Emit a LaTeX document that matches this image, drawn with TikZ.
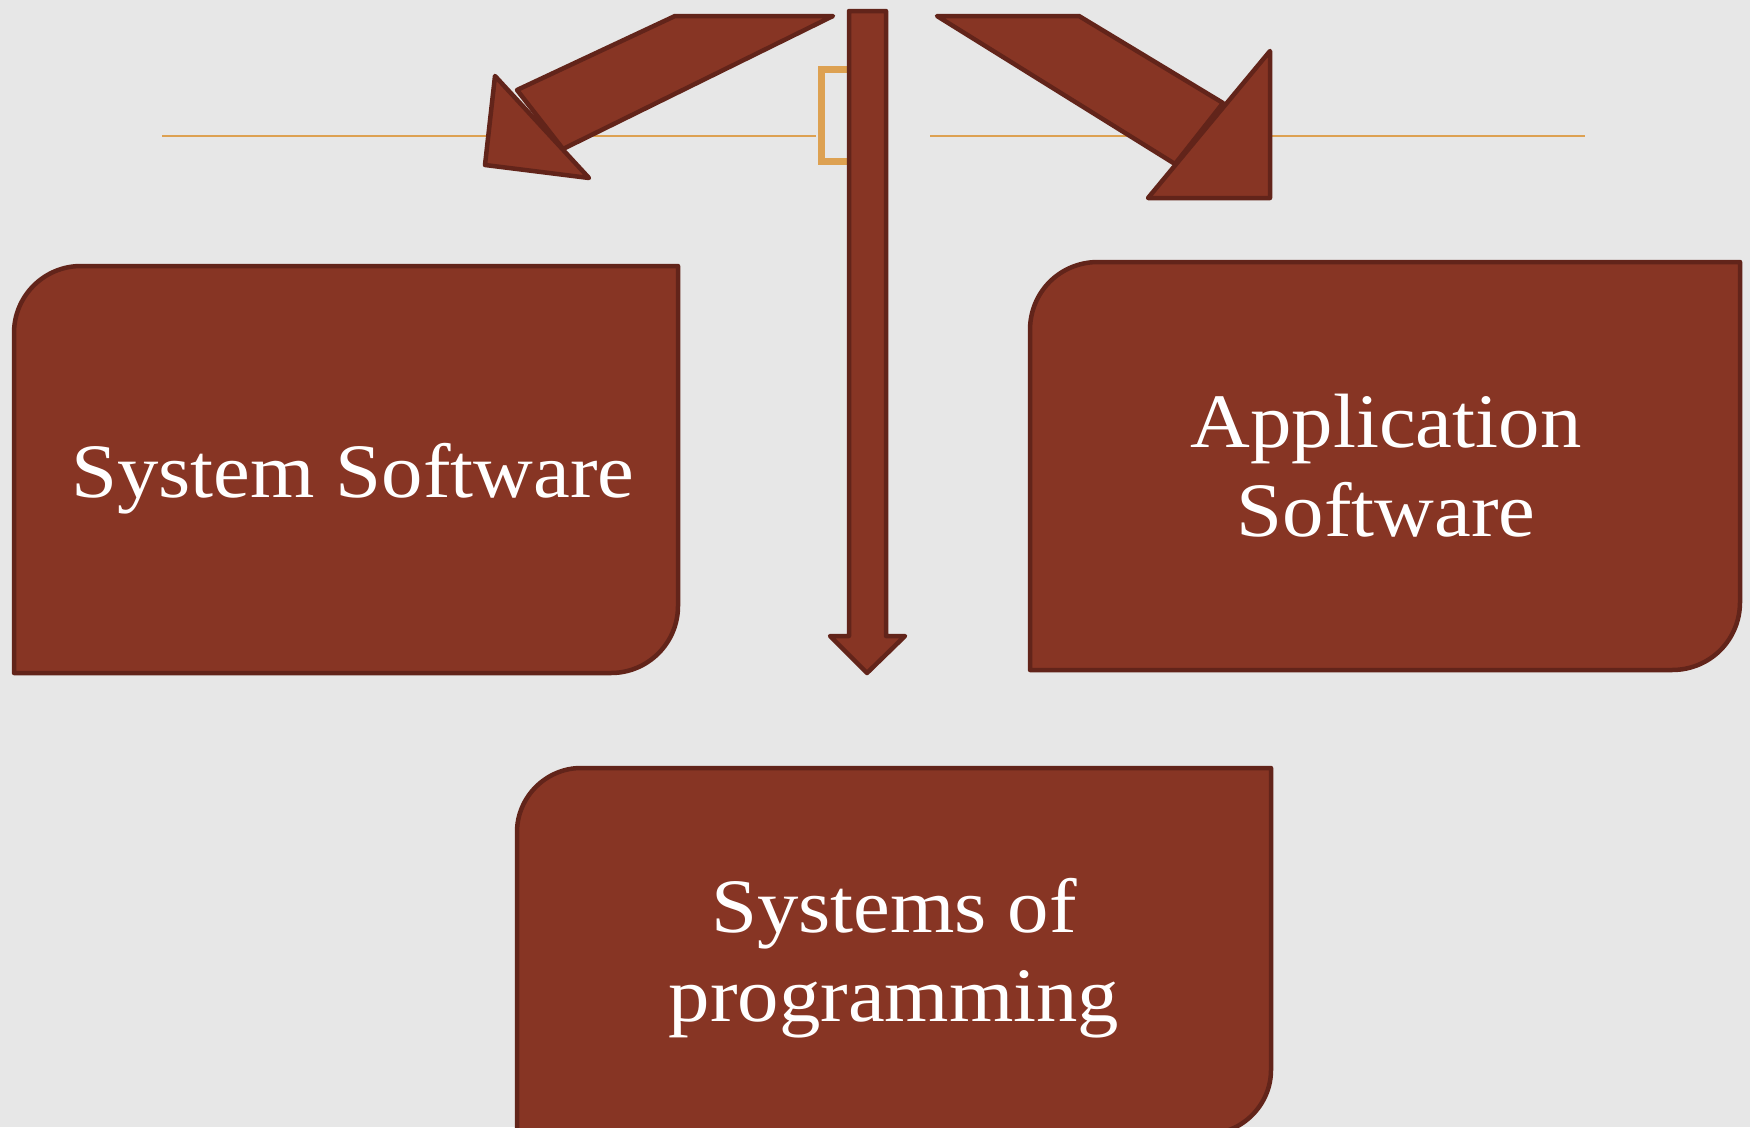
\documentclass[tikz,border=0pt]{standalone}
\usepackage{fontspec}
\setmainfont{Liberation Serif}
\newfontfamily\labelfont[FakeStretch=1.075]{Liberation Serif}
\definecolor{boxfill}{HTML}{873524}
\definecolor{boxedge}{HTML}{62241A}
\definecolor{gold}{HTML}{DDA152}
\definecolor{bg}{HTML}{E7E7E7}
\begin{document}
\begin{tikzpicture}[x=1pt,y=-1pt,
  shapestyle/.style={fill=boxfill,draw=boxedge,line width=4.5pt,line join=round},
  boxlabel/.style={text=white,font=\labelfont\fontsize{77}{89}\selectfont,align=center,inner sep=0pt},
  goldline/.style={draw=gold,line width=2pt},
  bracket/.style={draw=gold,line width=7pt},
]
\useasboundingbox (0,0) rectangle (1750,1127);
\fill[bg] (0,0) rectangle (1750,1127);

% thin gold rules
\draw[goldline] (162,136) -- (816,136);
\draw[goldline] (930,136) -- (1585,136);
% gold bracket behind the vertical arrow
\draw[bracket] (852,69.5) -- (821.5,69.5) -- (821.5,161.5) -- (852,161.5);

% left block arrow
\path[shapestyle] (833,16) -- (675,16) -- (517,90) -- (563,149) -- cycle;
\path[shapestyle] (495,76) -- (485,165) -- (589,178) -- cycle;
% vertical block arrow
\path[shapestyle] (849,11) -- (886,11) -- (886,636) -- (905,636) -- (867,673) -- (830,636) -- (849,636) -- cycle;
% right block arrow
\path[shapestyle] (937,16) -- (1079,16) -- (1223,103) -- (1175,164) -- cycle;
\path[shapestyle] (1270,51) -- (1270,198) -- (1148,198) -- cycle;

% boxes
\path[shapestyle] (81,266) -- (678,266) -- (678,606) .. controls (678,643) and (648,673) .. (611,673) -- (14,673) -- (14,333) .. controls (14,296) and (44,266) .. (81,266) -- cycle;
\path[shapestyle] (1098,262) -- (1740,262) -- (1740,602) .. controls (1740,640) and (1710,670) .. (1672,670) -- (1030,670) -- (1030,330) .. controls (1030,292) and (1060,262) .. (1098,262) -- cycle;
\path[shapestyle] (581,768) -- (1271,768) -- (1271,1070) .. controls (1271,1105) and (1242,1134) .. (1207,1134) -- (517,1134) -- (517,832) .. controls (517,797) and (546,768) .. (581,768) -- cycle;

\node[boxlabel,anchor=base] (sys) at (353,497) {System Software};
\node[boxlabel,anchor=center] (app) at (1386,466) {Application\\Software};
\node[boxlabel,anchor=center] (prog) at (894,958.5) {Systems of\\programming};
\end{tikzpicture}
\end{document}
